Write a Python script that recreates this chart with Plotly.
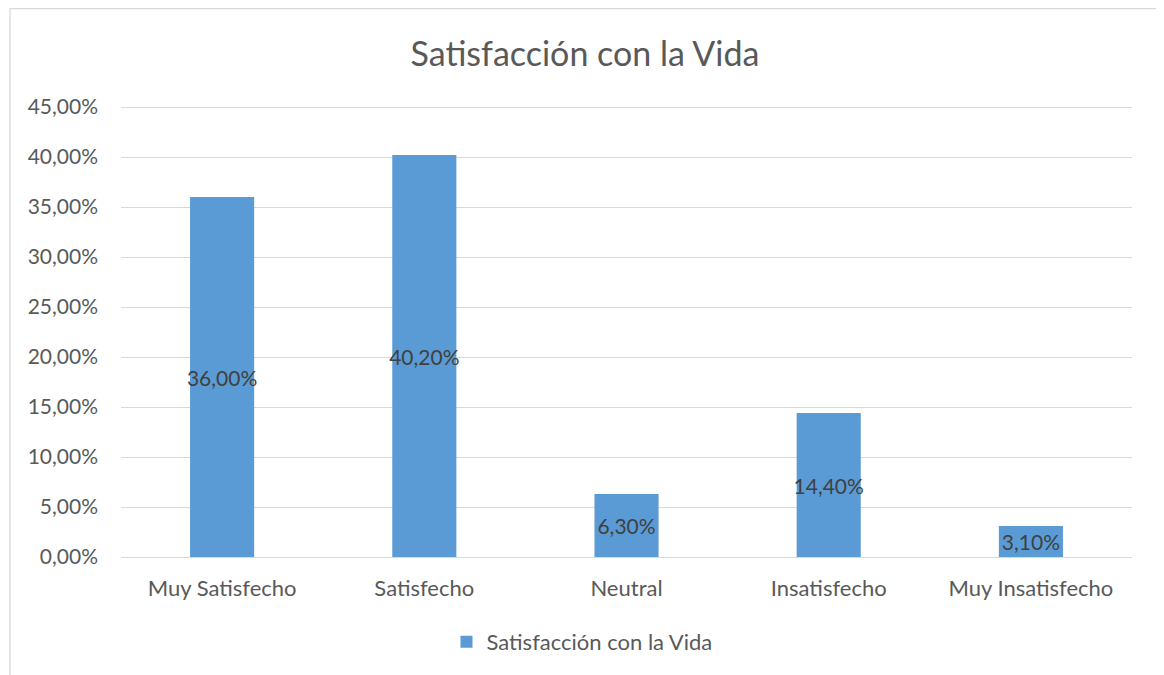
import plotly.graph_objects as go

categories = ["Muy Satisfecho", "Satisfecho", "Neutral", "Insatisfecho", "Muy Insatisfecho"]
values = [0.36, 0.402, 0.063, 0.144, 0.031]
series_name = "Satisfacción con la Vida"
tick_vals = [i * 0.05 for i in range(10)]

FONT = "Lato, 'Open Sans', sans-serif"

fig = go.Figure()
fig.add_trace(go.Bar(
    x=categories, y=values, name=series_name,
    marker=dict(color="#5B9BD5", line=dict(width=0)),
    texttemplate="%{y:.2%}", textposition="inside", insidetextanchor="middle",
    constraintext="none", textangle=0,
    textfont=dict(family=FONT, size=21, color="#404040"),
    showlegend=True,
))

OFF = 8  # page body margin
W, H = 1164 - OFF, 675 - OFF
L, R, T, B = 121 - OFF, 32, 102 - OFF, 118
pw = W - L - R
ph = H - T - B

fig.update_layout(
    width=W, height=H,
    margin=dict(l=L, r=R, t=T, b=B),
    paper_bgcolor="white", plot_bgcolor="white",
    separators=",.",
    bargap=0.683,
    font=dict(family=FONT, color="#595959", size=18),
    title=dict(text=series_name, x=(585 - OFF) / W, xanchor="center", xref="container",
               y=1 - (54 - OFF) / H, yanchor="middle", yref="container",
               font=dict(family=FONT, size=34, color="#595959")),
    showlegend=True,
    legend=dict(orientation="h", x=(582 - OFF) / W, xanchor="center", xref="container",
                y=1 - (642 - OFF) / H, yanchor="middle", yref="container",
                itemwidth=30,
                font=dict(family=FONT, size=22, color="#595959")),
    xaxis=dict(showgrid=False, showline=False, zeroline=False, ticks="",
               ticklabelstandoff=16, tickfont=dict(size=22)),
    yaxis=dict(range=[0, 0.455], tickvals=tick_vals, tickformat=".2%",
               showgrid=True, gridcolor="#D9D9D9", gridwidth=1.3,
               zeroline=True, zerolinecolor="#D9D9D9", zerolinewidth=1.3,
               showline=False, ticks="", ticklabelstandoff=22,
               tickfont=dict(size=21)),
    shapes=[dict(type="rect", xref="paper", yref="paper",
                 x0=(2 - L) / pw, x1=(1152 - L) / pw,
                 y0=-(H - T - ph + 50) / ph, y1=1 + (T - 0.7) / ph,
                 line=dict(color="#D9D9D9", width=1.3), fillcolor="rgba(0,0,0,0)",
                 layer="below")],
)

fig.write_html("out.html")
